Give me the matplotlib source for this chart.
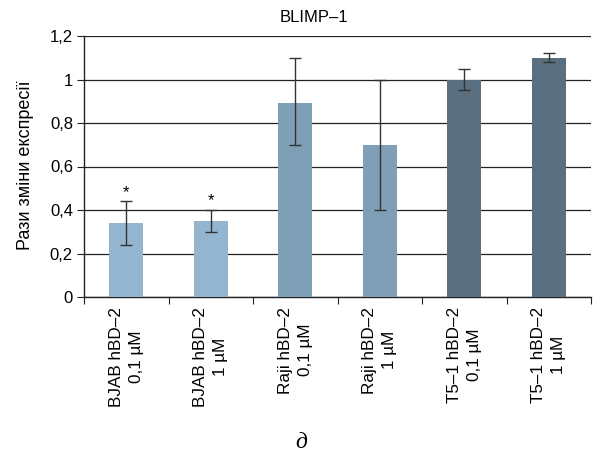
import matplotlib
matplotlib.use("Agg")
import matplotlib.pyplot as plt
import numpy as np

# Data
categories = ["BJAB hBD–2\n0,1 µM", "BJAB hBD–2\n1 µM", "Raji hBD–2\n0,1 µM",
              "Raji hBD–2\n1 µM", "T5–1 hBD–2\n0,1 µM", "T5–1 hBD–2\n1 µM"]
values = [0.34, 0.35, 0.89, 0.70, 1.00, 1.10]
err_low = [0.10, 0.05, 0.19, 0.30, 0.05, 0.02]
err_high = [0.10, 0.05, 0.21, 0.30, 0.05, 0.02]
significant = [True, True, False, False, False, False]
bar_colors = ["#93b5d0", "#93b5d0", "#7f9fb6", "#7f9fb6", "#5a6f80", "#5a6f80"]
y_ticks = [0, 0.2, 0.4, 0.6, 0.8, 1.0, 1.2]
y_tick_labels = ["0", "0,2", "0,4", "0,6", "0,8", "1", "1,2"]

plt.rcParams["font.family"] = ["Liberation Sans", "DejaVu Sans"]

fig = plt.figure(figsize=(6.04, 4.57), dpi=100)
ax = fig.add_axes([84 / 604, 1 - 297 / 457, (591 - 84) / 604, (297 - 36) / 457])

x = np.arange(len(categories))
ax.bar(x, values, width=0.4, color=bar_colors, zorder=3)
ax.errorbar(x, values, yerr=[err_low, err_high], fmt="none", ecolor="#333333",
            elinewidth=1.0, capsize=4, capthick=1.0, zorder=4)
for xi, v, eh, s in zip(x, values, err_high, significant):
    if s:
        ax.annotate("*", (xi, v + eh), xytext=(0, 1), textcoords="offset points",
                    ha="center", va="bottom", fontsize=12)

ax.set_xlim(-0.5, len(categories) - 0.5)
ax.set_ylim(0, 1.2)
ax.set_yticks(y_ticks)
ax.set_yticklabels(y_tick_labels, fontsize=12)
ax.yaxis.grid(True, color="#222222", linewidth=0.9, zorder=0)
ax.set_axisbelow(True)

ax.set_xticks(np.arange(-0.5, len(categories)), minor=False)
ax.set_xticklabels([])
ax.set_xticks(x, minor=True)
ax.set_xticklabels(categories, minor=True, rotation=90, fontsize=12.3,
                   ha="center", va="top", multialignment="center",
                   linespacing=1.4)
ax.tick_params(axis="x", which="minor", length=0, pad=7)
ax.tick_params(axis="x", which="major", length=5, direction="out", color="#222222")
ax.tick_params(axis="y", length=5, direction="out", color="#222222", pad=3)

for side in ("top", "right"):
    ax.spines[side].set_visible(False)
for side in ("left", "bottom"):
    ax.spines[side].set_color("#222222")
    ax.spines[side].set_linewidth(1.0)

fig.text(26 / 604, 1 - 165 / 457, "Рази зміни експресії", fontsize=13,
         rotation=90, ha="center", va="center")
fig.text(314 / 604, 1 - 17 / 457, "BLIMP–1", fontsize=12,
         ha="center", va="center")

fig.text(301 / 604, 1 - 443 / 457, "д", fontsize=17, style="italic",
         family=["Liberation Serif", "DejaVu Serif"], ha="center", va="center")

fig.savefig("out.png", dpi=100)
